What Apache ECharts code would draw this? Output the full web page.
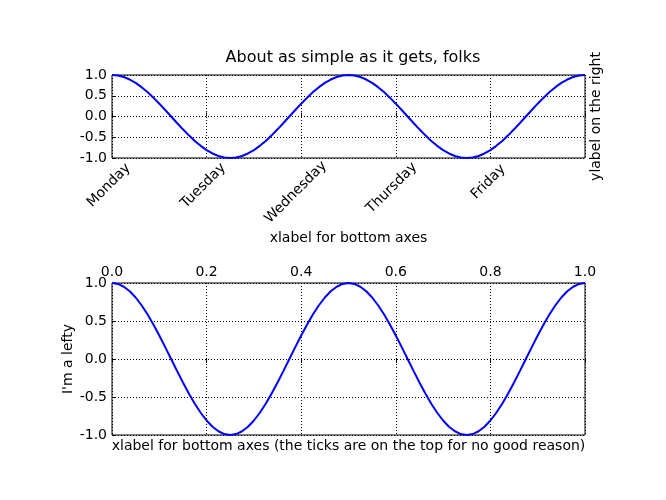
<!DOCTYPE html>
<html>
<head>
<meta charset="utf-8">
<script src="https://cdn.jsdelivr.net/npm/echarts@6/dist/echarts.min.js"></script>
<style>html,body{margin:0;padding:0;background:#fff;}#c{width:666px;height:500px;}</style>
</head>
<body>
<div id="c"></div>
<script>
// ---- data ----
const tValues = [0,0.0125,0.025,0.0375,0.05,0.0625,0.075,0.0875,0.1,0.1125,0.125,0.1375,0.15,0.1625,0.175,0.1875,0.2,0.2125,0.225,0.2375,0.25,0.2625,0.275,0.2875,0.3,0.3125,0.325,0.3375,0.35,0.3625,0.375,0.3875,0.4,0.4125,0.425,0.4375,0.45,0.4625,0.475,0.4875,0.5,0.5125,0.525,0.5375,0.55,0.5625,0.575,0.5875,0.6,0.6125,0.625,0.6375,0.65,0.6625,0.675,0.6875,0.7,0.7125,0.725,0.7375,0.75,0.7625,0.775,0.7875,0.8,0.8125,0.825,0.8375,0.85,0.8625,0.875,0.8875,0.9,0.9125,0.925,0.9375,0.95,0.9625,0.975,0.9875,1];
const yValues = [1,0.988,0.951,0.891,0.809,0.707,0.588,0.454,0.309,0.156,0,-0.156,-0.309,-0.454,-0.588,-0.707,-0.809,-0.891,-0.951,-0.988,-1,-0.988,-0.951,-0.891,-0.809,-0.707,-0.588,-0.454,-0.309,-0.156,0,0.156,0.309,0.454,0.588,0.707,0.809,0.891,0.951,0.988,1,0.988,0.951,0.891,0.809,0.707,0.588,0.454,0.309,0.156,0,-0.156,-0.309,-0.454,-0.588,-0.707,-0.809,-0.891,-0.951,-0.988,-1,-0.988,-0.951,-0.891,-0.809,-0.707,-0.588,-0.454,-0.309,-0.156,0,0.156,0.309,0.454,0.588,0.707,0.809,0.891,0.951,0.988,1];
const dayLabels = ['Monday','Tuesday','Wednesday','Thursday','Friday'];
const xTickValues = [0, 0.2, 0.4, 0.6, 0.8, 1.0];
const yTickValues = [-1.0, -0.5, 0.0, 0.5, 1.0];

const titleText = 'About as simple as it gets, folks';
const topXLabel = 'xlabel for bottom axes';
const topYLabelRight = 'ylabel on the right';
const bottomYLabel = "I'm a lefty";
const bottomXLabel = 'xlabel for bottom axes (the ticks are on the top for no good reason)';

// ---- styling ----
const FONT = '"DejaVu Sans", sans-serif';
const FS = 14;
const LH = 14;
const black = '#000';

// Matplotlib-like placement of 45° rotated tick labels (bbox centred on tick, top just below axis)
const ctx = document.createElement('canvas').getContext('2d');
ctx.font = FS + 'px "DejaVu Sans"';
const topGap = 14, xShift = 4, labelMargin = 0;
const rich = {};
dayLabels.forEach((d, i) => {
  const w = ctx.measureText(d).width;
  const half = 0.3536 * (w + LH);
  const A = (topGap + half - labelMargin) / 1.4142;
  rich['d' + i] = {
    fontFamily: FONT, fontSize: FS, color: black, lineHeight: LH,
    padding: [Math.max(0, A - LH / 2), Math.max(0, 2 * A - 2 * xShift / 0.7071), 0, 0]
  };
});

const dataPairs = tValues.map((t, i) => [t, yValues[i]]);

const grid0 = {left: 112, right: 81, top: 75, height: 83, show: true, borderColor: black, borderWidth: 1, backgroundColor: '#fff'};
const grid1 = {left: 112, right: 81, top: 283, height: 152, show: true, borderColor: black, borderWidth: 1, backgroundColor: '#fff'};

const gridLine = {show: true, lineStyle: {color: black, width: 1, type: [1, 2]}};
const tickIn = {show: true, inside: true, length: 4, lineStyle: {color: black, width: 1}};
const fmt1 = v => v.toFixed(1);

const option = {
  animation: false,
  backgroundColor: '#fff',
  title: {
    text: titleText, left: 348, top: 45, textAlign: 'center',
    textStyle: {fontFamily: FONT, fontSize: 16, fontWeight: 'normal', color: black}
  },
  grid: [grid0, grid1],
  xAxis: [
    { // top plot, bottom axis with day labels
      gridIndex: 0, type: 'value', position: 'bottom', min: 0, max: 1, interval: 0.2,
      axisLine: {show: false}, axisTick: tickIn, splitLine: gridLine,
      axisLabel: {
        show: true, rotate: 45, align: 'center', verticalAlign: 'top', margin: labelMargin,
        formatter: v => {
          const i = xTickValues.findIndex(x => Math.abs(x - v) < 1e-6);
          return (i >= 0 && i < dayLabels.length) ? '{d' + i + '|' + dayLabels[i] + '}' : '';
        },
        rich: rich
      },
      name: topXLabel, nameLocation: 'middle', nameGap: 73, nameMoveOverlap: false,
      nameTextStyle: {fontFamily: FONT, fontSize: FS, color: black, verticalAlign: 'top'}
    },
    { // bottom plot, tick labels on top
      gridIndex: 1, type: 'value', position: 'top', min: 0, max: 1, interval: 0.2,
      axisLine: {show: false}, axisTick: tickIn, splitLine: gridLine,
      axisLabel: {show: true, margin: 4, formatter: fmt1, fontFamily: FONT, fontSize: FS, color: black, showMinLabel: true, showMaxLabel: true}
    },
    { // bottom plot, name only at the bottom
      gridIndex: 1, type: 'value', position: 'bottom', min: 0, max: 1, interval: 0.2,
      axisLine: {show: false}, axisTick: {show: false}, splitLine: {show: false}, axisLabel: {show: false},
      name: bottomXLabel, nameLocation: 'middle', nameGap: 4, nameMoveOverlap: false,
      nameTextStyle: {fontFamily: FONT, fontSize: FS, color: black, verticalAlign: 'top'}
    }
  ],
  yAxis: [
    {
      gridIndex: 0, type: 'value', position: 'left', min: -1, max: 1, interval: 0.5,
      axisLine: {show: false}, axisTick: tickIn, splitLine: gridLine,
      axisLabel: {margin: 5, formatter: fmt1, fontFamily: FONT, fontSize: FS, color: black, showMinLabel: true, showMaxLabel: true}
    },
    {
      gridIndex: 0, type: 'value', position: 'right', min: -1, max: 1, interval: 0.5,
      axisLine: {show: false}, axisTick: {show: false}, splitLine: {show: false}, axisLabel: {show: false},
      name: topYLabelRight, nameLocation: 'middle', nameGap: 4, nameMoveOverlap: false,
      nameTextStyle: {fontFamily: FONT, fontSize: FS, color: black}
    },
    {
      gridIndex: 1, type: 'value', position: 'left', min: -1, max: 1, interval: 0.5,
      axisLine: {show: false}, axisTick: tickIn, splitLine: gridLine,
      axisLabel: {margin: 5, formatter: fmt1, fontFamily: FONT, fontSize: FS, color: black, showMinLabel: true, showMaxLabel: true},
      name: bottomYLabel, nameLocation: 'middle', nameGap: 37, nameMoveOverlap: false,
      nameTextStyle: {fontFamily: FONT, fontSize: FS, color: black}
    }
  ],
  series: [
    {
      type: 'line', xAxisIndex: 0, yAxisIndex: 0, data: dataPairs,
      showSymbol: false, symbol: 'none', lineStyle: {color: '#0000ff', width: 2}, clip: true
    },
    {
      type: 'line', xAxisIndex: 1, yAxisIndex: 2, data: dataPairs,
      showSymbol: false, symbol: 'none', lineStyle: {color: '#0000ff', width: 2}, clip: true
    }
  ]
};

const chart = echarts.init(document.getElementById('c'), null, {renderer: 'canvas'});
chart.setOption(option);
</script>
</body>
</html>
